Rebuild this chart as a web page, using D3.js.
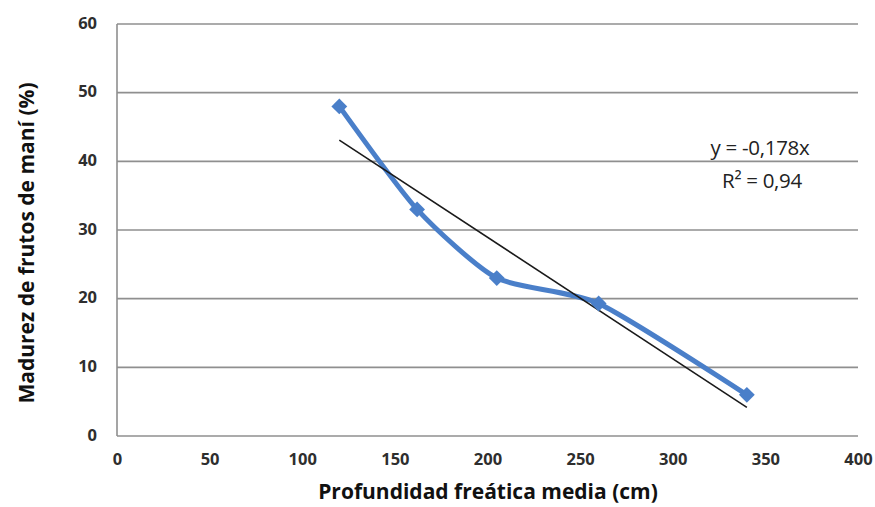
<!DOCTYPE html>
<html>
<head>
<meta charset="utf-8">
<script src="https://cdn.jsdelivr.net/npm/d3@7"></script>
<style>
  html, body { margin: 0; padding: 0; background: #fff; }
  svg { display: block; }
</style>
</head>
<body>
<svg id="chart" width="875" height="507"></svg>
<script>
// Water-table depth (cm) vs. peanut pod maturity (%)
const depths = [120, 162, 205, 260, 340];
const maturity = [48, 33, 23, 19.3, 6];
const xTicks = [0, 50, 100, 150, 200, 250, 300, 350, 400];
const yTicks = [0, 10, 20, 30, 40, 50, 60];
const xTitle = "Profundidad freática media (cm)";
const yTitle = "Madurez de frutos de maní (%)";
const eqLines = ["y = -0,178x", "R² = 0,94"];

const svg = d3.select("#chart");

const x = d3.scaleLinear().domain([0, 400]).range([117, 858]);
const y = d3.scaleLinear().domain([0, 60]).range([436, 24]);

const font = "'Open Sans', 'Noto Sans', sans-serif";
const gridColor = "#8f8f8f";

// horizontal gridlines
svg.append("g")
  .selectAll("line")
  .data(yTicks)
  .join("line")
  .attr("x1", x(0)).attr("x2", x(400))
  .attr("y1", d => y(d)).attr("y2", d => y(d))
  .attr("stroke", gridColor)
  .attr("stroke-width", 1.6);

// vertical axis line
svg.append("line")
  .attr("x1", x(0)).attr("x2", x(0))
  .attr("y1", y(60)).attr("y2", y(0))
  .attr("stroke", gridColor)
  .attr("stroke-width", 1.6);

const styleTicks = g => g.selectAll("text")
  .attr("font-family", font)
  .attr("font-weight", "bold")
  .attr("font-size", 16.5)
  .attr("fill", "#2e2e2e");

// y axis labels
svg.append("g")
  .attr("transform", `translate(${x(0)},0)`)
  .call(d3.axisLeft(y).tickValues(yTicks).tickSize(0).tickPadding(20))
  .call(g => g.select(".domain").remove())
  .call(styleTicks)
  .call(g => g.selectAll("text").attr("dy", "0.25em"));

// x axis labels
svg.append("g")
  .attr("transform", `translate(0,${y(0)})`)
  .call(d3.axisBottom(x).tickValues(xTicks).tickSize(0).tickPadding(17))
  .call(g => g.select(".domain").remove())
  .call(styleTicks);

// axis titles
svg.append("text")
  .attr("x", 488).attr("y", 499)
  .attr("text-anchor", "middle")
  .attr("font-family", font)
  .attr("font-weight", "bold")
  .attr("font-size", 21)
  .attr("fill", "#111")
  .text(xTitle);

svg.append("text")
  .attr("transform", "translate(34,243) rotate(-90)")
  .attr("text-anchor", "middle")
  .attr("font-family", font)
  .attr("font-weight", "bold")
  .attr("font-size", 21)
  .attr("fill", "#111")
  .text(yTitle);

// data series
const pts = depths.map((d, i) => ({ x: d, y: maturity[i] }));

const line = d3.line()
  .x(d => x(d.x))
  .y(d => y(d.y))
  .curve(d3.curveCardinal.tension(0.35));

svg.append("path")
  .datum(pts)
  .attr("d", line)
  .attr("fill", "none")
  .attr("stroke", "#4a7fc9")
  .attr("stroke-width", 5)
  .attr("stroke-linejoin", "round");

// least-squares linear trend
const mx = d3.mean(depths), my = d3.mean(maturity);
const sxy = d3.sum(pts, p => (p.x - mx) * (p.y - my));
const sxx = d3.sum(pts, p => (p.x - mx) ** 2);
const slope = sxy / sxx;
const intercept = my - slope * mx;
const xr = d3.extent(depths);

svg.append("line")
  .attr("x1", x(xr[0])).attr("y1", y(intercept + slope * xr[0]))
  .attr("x2", x(xr[1])).attr("y2", y(intercept + slope * xr[1]))
  .attr("stroke", "#1a1a1a")
  .attr("stroke-width", 1.6);

// diamond markers
svg.append("g")
  .selectAll("path")
  .data(pts)
  .join("path")
  .attr("transform", d => `translate(${x(d.x)},${y(d.y)})`)
  .attr("d", d3.symbol().type(d3.symbolDiamond2).size(160))
  .attr("fill", "#4a7fc9");

// trend equation
const eq = svg.append("text")
  .attr("font-family", font)
  .attr("font-size", 20.5)
  .attr("letter-spacing", -0.3)
  .attr("fill", "#222");
eq.append("tspan").attr("x", 760).attr("y", 155).attr("text-anchor", "middle").text(eqLines[0]);
eq.append("tspan").attr("x", 762).attr("y", 188).attr("text-anchor", "middle").text(eqLines[1]);
</script>
</body>
</html>
